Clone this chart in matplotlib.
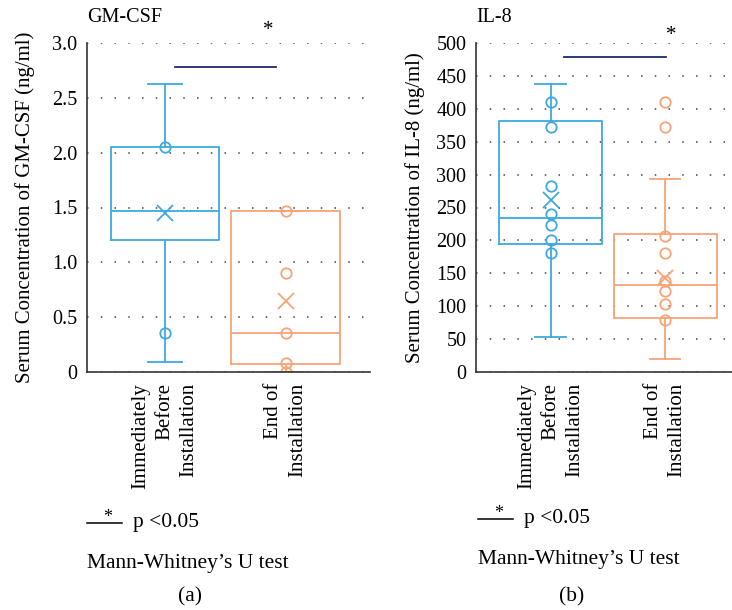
import matplotlib
matplotlib.use("Agg")
import matplotlib.pyplot as plt
from matplotlib.lines import Line2D

plt.rcParams['font.family'] = ['Liberation Serif', 'DejaVu Serif']

groups = ["Immediately\nBefore\nInstallation", "End of\nInstallation"]

# GM-CSF (ng/ml): box summary per group
gm_whislo = [0.09, 0.0]
gm_q1 = [1.20, 0.07]
gm_med = [1.47, 0.36]
gm_q3 = [2.05, 1.47]
gm_whishi = [2.63, 1.47]
gm_mean = [1.45, 0.65]
gm_points = [[2.05, 0.36], [1.47, 0.90, 0.36, 0.08, 0.0]]

# IL-8 (ng/ml)
il_whislo = [53, 19]
il_q1 = [195, 82]
il_med = [234, 132]
il_q3 = [382, 209]
il_whishi = [437, 294]
il_mean = [262, 143]
il_points = [[410, 372, 282, 240, 223, 200, 181],
             [410, 372, 207, 181, 138, 123, 104, 79]]

blue = '#3da9de'
orange = '#f8a477'
navy = '#1f2a6b'


def draw_panel(ax, whislo, q1, med, q3, whishi, mean, points, ylim, yticks, yfmt,
               ylabel, title, capw, bar_y, bar_x, star_xy, xlim, label_x):
    colors = [blue, orange]
    for i in range(2):
        st = {'whislo': whislo[i], 'q1': q1[i], 'med': med[i], 'q3': q3[i],
              'whishi': whishi[i], 'mean': mean[i], 'fliers': []}
        c = colors[i]
        ax.bxp([st], positions=[i + 1], widths=0.9, capwidths=capw, showmeans=True,
               showfliers=False,
               boxprops=dict(color=c, linewidth=1.3),
               whiskerprops=dict(color=c, linewidth=1.3),
               capprops=dict(color=c, linewidth=1.3),
               medianprops=dict(color=c, linewidth=1.3),
               meanprops=dict(marker='x', markeredgecolor=c, markersize=12,
                              markeredgewidth=1.3))
        ax.plot([i + 1] * len(points[i]), points[i], 'o', markerfacecolor='none',
                markeredgecolor=c, markersize=7.5, markeredgewidth=1.3)

    ax.set_ylim(*ylim)
    ax.set_xlim(*xlim)
    ax.set_yticks(yticks)
    ax.set_yticklabels([yfmt(v) for v in yticks], fontsize=14.5)
    ax.set_xticks([1, 2])
    ax.set_xticklabels(groups, rotation=90, fontsize=15, va='top', ha='center',
                       multialignment='right', linespacing=1.35)
    ax.tick_params(axis='y', length=0, pad=7)
    ax.tick_params(axis='x', length=0, pad=8)
    ax.yaxis.grid(True, linestyle=(0, (1, 8)), color='#444444', linewidth=1.1)
    ax.set_axisbelow(True)
    for s in ['top', 'right']:
        ax.spines[s].set_visible(False)
    for s in ['left', 'bottom']:
        ax.spines[s].set_color('#333333')
        ax.spines[s].set_linewidth(1.2)
    ax.set_ylabel(ylabel, fontsize=15)
    ax.yaxis.set_label_coords(label_x, 0.5)
    ax.text(0.0, 1.079, title, transform=ax.transAxes, ha='left', va='center',
            fontsize=14.5)

    ax.plot(bar_x, [bar_y, bar_y], color=navy, linewidth=1.3)
    ax.text(star_xy[0], star_xy[1], '*', ha='center', va='center', fontsize=15,
            clip_on=False)


fig = plt.figure(figsize=(7.32, 6.10), dpi=100)
ax1 = fig.add_axes([87 / 732, 238 / 610, 283 / 732, 329 / 610])
ax2 = fig.add_axes([476 / 732, 238 / 610, 256 / 732, 329 / 610])

draw_panel(ax1, gm_whislo, gm_q1, gm_med, gm_q3, gm_whishi, gm_mean, gm_points,
           (0, 3.0), [0, 0.5, 1.0, 1.5, 2.0, 2.5, 3.0],
           lambda v: '0' if v == 0 else f'{v:.1f}',
           'Serum Concentration of GM-CSF (ng/ml)', 'GM-CSF',
           0.28, 2.785, [1.08, 1.92], (1.855, 3.115), (0.353, 2.70), -0.185)
draw_panel(ax2, il_whislo, il_q1, il_med, il_q3, il_whishi, il_mean, il_points,
           (0, 500), list(range(0, 501, 50)),
           lambda v: f'{v:d}',
           'Serum Concentration of IL-8 (ng/ml)', 'IL-8',
           0.27, 478, [1.12, 2.01], (2.05, 512), (0.349, 2.585), -0.20)

# footnotes
for x0, xc, dy, tag in [(87, 190, 0, '(a)'), (478, 572, -4, '(b)')]:
    fig.add_artist(Line2D([x0 / 732, (x0 + 35) / 732], [1 - (523 + dy) / 610] * 2,
                          color='black', linewidth=1.1))
    fig.text((x0 + 21) / 732, 1 - (517 + dy) / 610, '*', ha='center', va='center',
             fontsize=13)
    fig.text((x0 + 46) / 732, 1 - (527 + dy) / 610, 'p <0.05', ha='left',
             va='baseline', fontsize=15.5)
    fig.text(x0 / 732, 1 - (568 + dy) / 610, 'Mann-Whitney\u2019s U test', ha='left',
             va='baseline', fontsize=15.5)
    fig.text(xc / 732, 1 - 601 / 610, tag, ha='center', va='baseline', fontsize=15.5)

fig.savefig('out.png', dpi=100)
